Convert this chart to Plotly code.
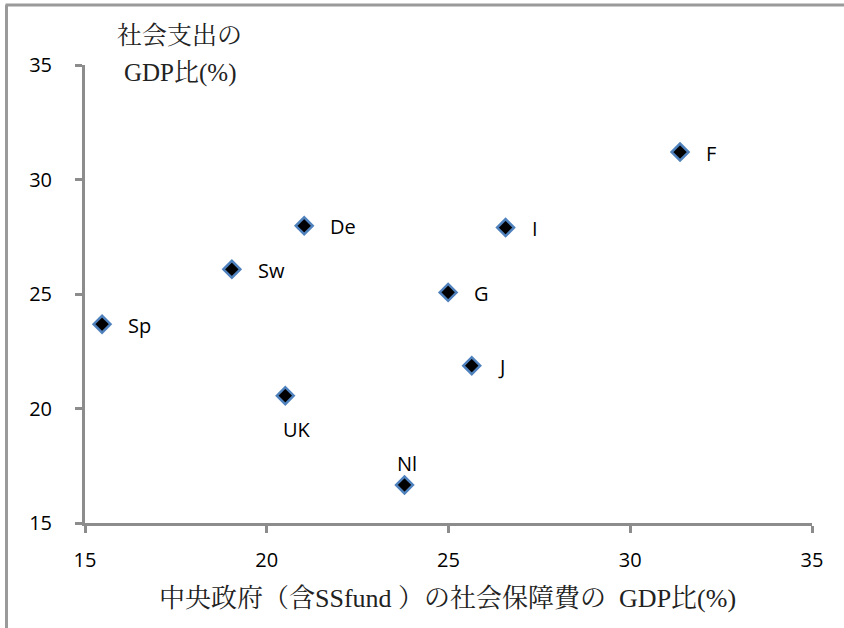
import plotly.graph_objects as go

countries = ["F", "I", "G", "J", "De", "Sw", "Sp", "UK", "Nl"]
central_gov_ss = [31.37, 26.57, 24.99, 25.64, 21.03, 19.04, 15.47, 20.51, 23.79]
social_exp = [31.2, 27.9, 25.07, 21.87, 27.98, 26.08, 23.68, 20.56, 16.66]
x_ticks = [15, 20, 25, 30, 35]
y_ticks = [15, 20, 25, 30, 35]

label_font = dict(family="Open Sans, Liberation Sans, sans-serif", size=20, color="#000000")
serif = "Liberation Serif, Noto Serif CJK JP, Noto Sans CJK JP, serif"

L, T, W, H = 85, 65, 727, 458  # plot area in page pixels


def px(xp):
    return (xp - L) / W


def py(yp):
    return (T + H - yp) / H


fig = go.Figure()
fig.add_trace(go.Scatter(
    x=central_gov_ss, y=social_exp, mode="markers",
    marker=dict(symbol="diamond", size=13, color="#000000",
                line=dict(color="#4F81BD", width=2.5)),
    hoverinfo="x+y", showlegend=False,
))

annotations = []
for name, xv, yv in zip(countries, central_gov_ss, social_exp):
    if name == "UK":
        a = dict(xanchor="center", yanchor="middle", xshift=12, yshift=-34)
    elif name == "Nl":
        a = dict(xanchor="center", yanchor="middle", xshift=2, yshift=21)
    else:
        a = dict(xanchor="left", yanchor="middle", xshift=24, yshift=-1)
    annotations.append(dict(x=xv, y=yv, xref="x", yref="y", text=name,
                            showarrow=False, font=label_font, **a))

annotations.append(dict(xref="paper", yref="paper", x=px(179), y=py(36),
                        text="社会支出の", showarrow=False, xanchor="center", yanchor="middle",
                        font=dict(family=serif, size=25, color="#222222")))
annotations.append(dict(xref="paper", yref="paper", x=px(180), y=py(73),
                        text="GDP比(%)", showarrow=False, xanchor="center", yanchor="middle",
                        font=dict(family=serif, size=25, color="#222222")))
annotations.append(dict(xref="paper", yref="paper", x=px(447), y=py(598),
                        text="中央政府（含SSfund ）の社会保障費の  GDP比(%)", showarrow=False,
                        xanchor="center", yanchor="middle",
                        font=dict(family=serif, size=26, color="#222222")))

axis_common = dict(showgrid=False, zeroline=False, showline=True, linecolor="#8C8C8C",
                   linewidth=3, ticks="outside", ticklen=7, tickwidth=3, tickcolor="#8C8C8C",
                   tickfont=label_font, mirror=False)

fig.update_layout(
    width=844, height=628,
    margin=dict(l=L, r=844 - L - W, t=T, b=628 - T - H),
    paper_bgcolor="#FFFFFF", plot_bgcolor="#FFFFFF",
    xaxis=dict(range=[15, 35], tickvals=x_ticks, ticklabelstandoff=10, **axis_common),
    yaxis=dict(range=[15, 35], tickvals=y_ticks, ticklabelstandoff=19, **axis_common),
    annotations=annotations,
    shapes=[
        dict(type="line", xref="paper", yref="paper", x0=px(5.5), x1=px(844),
             y0=py(5), y1=py(5), line=dict(color="#9A9A9A", width=3)),
        dict(type="line", xref="paper", yref="paper", x0=px(6.5), x1=px(6.5),
             y0=py(5), y1=py(628), line=dict(color="#9A9A9A", width=3)),
    ],
)

fig.write_html("out.html", config={"displayModeBar": False},
               post_script="document.body.style.margin='0';")
